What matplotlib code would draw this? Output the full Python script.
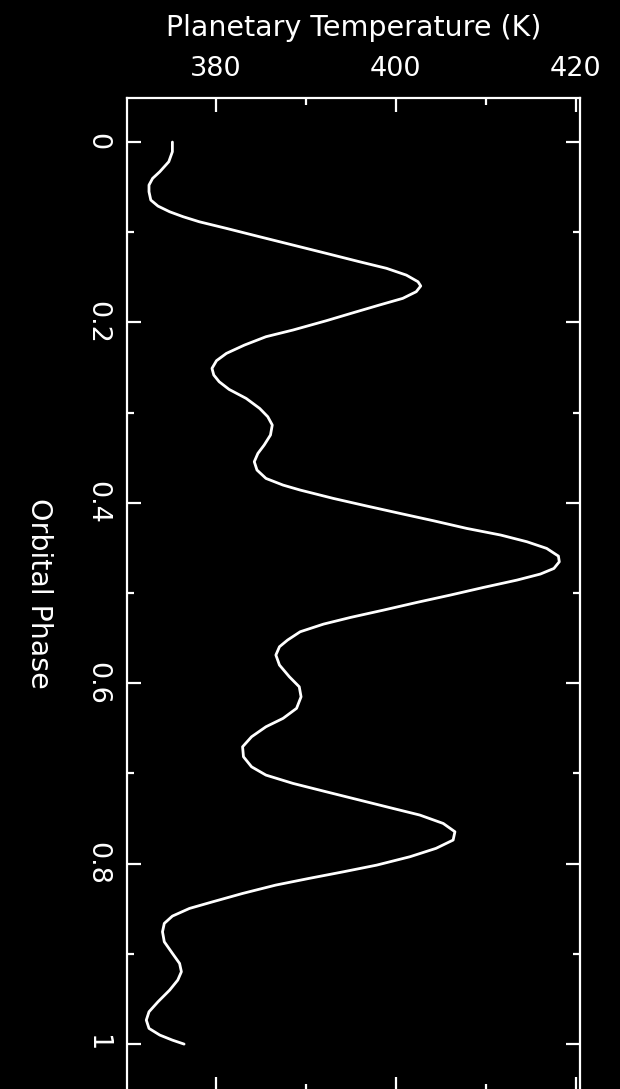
import matplotlib
matplotlib.use("Agg")
import matplotlib.pyplot as plt
from matplotlib.ticker import MultipleLocator, FuncFormatter

phase = [0.0000, 0.0107, 0.0218, 0.0329, 0.0403, 0.0477, 0.0551, 0.0643, 0.0710, 0.0773,
         0.0828, 0.0884, 0.0957, 0.1050, 0.1142, 0.1234, 0.1327, 0.1400, 0.1475, 0.1549,
         0.1596, 0.1659, 0.1733, 0.1807, 0.1892, 0.1981, 0.2084, 0.2158, 0.2251, 0.2343,
         0.2424, 0.2509, 0.2583, 0.2657, 0.2742, 0.2842, 0.2953, 0.3045, 0.3137, 0.3248,
         0.3359, 0.3452, 0.3544, 0.3636, 0.3729, 0.3803, 0.3858, 0.3951, 0.4035, 0.4117,
         0.4198, 0.4283, 0.4357, 0.4431, 0.4505, 0.4590, 0.4653, 0.4727, 0.4789, 0.4856,
         0.4937, 0.5022, 0.5103, 0.5188, 0.5270, 0.5344, 0.5429, 0.5521, 0.5595, 0.5687,
         0.5798, 0.5928, 0.6039, 0.6150, 0.6278, 0.6389, 0.6482, 0.6593, 0.6704, 0.6815,
         0.6926, 0.7018, 0.7110, 0.7203, 0.7295, 0.7387, 0.7461, 0.7554, 0.7646, 0.7738,
         0.7830, 0.7923, 0.8016, 0.8090, 0.8163, 0.8237, 0.8330, 0.8422, 0.8496, 0.8581,
         0.8662, 0.8755, 0.8866, 0.8994, 0.9106, 0.9198, 0.9290, 0.9401, 0.9531, 0.9642,
         0.9734, 0.9826, 0.9900, 0.9956, 1.0000]
temperature = [375.2, 375.2, 374.8, 373.8, 373.0, 372.6, 372.6, 372.8, 373.6, 374.9,
               376.4, 378.2, 381.2, 384.9, 388.6, 392.3, 396.0, 399.0, 401.2, 402.5,
               402.8, 402.3, 400.8, 398.2, 395.3, 392.3, 388.6, 385.6, 383.2, 381.2,
               380.1, 379.6, 379.8, 380.4, 381.5, 383.4, 384.9, 385.8, 386.3, 386.1,
               385.4, 384.7, 384.3, 384.6, 385.6, 387.5, 389.4, 393.1, 396.8, 400.5,
               404.2, 407.9, 411.7, 414.6, 416.8, 418.1, 418.2, 417.6, 416.1, 413.5,
               409.8, 406.1, 402.4, 398.7, 395.0, 392.0, 389.4, 388.0, 387.1, 386.7,
               387.1, 388.2, 389.3, 389.5, 389.0, 387.5, 385.6, 384.0, 383.0, 383.1,
               384.0, 385.6, 388.6, 392.3, 396.0, 399.7, 402.7, 405.3, 406.6, 406.4,
               404.5, 401.6, 397.9, 394.2, 390.4, 386.7, 383.0, 379.7, 377.1, 375.2,
               374.3, 374.1, 374.3, 375.2, 376.0, 376.2, 375.8, 374.9, 373.6, 372.6,
               372.3, 372.6, 373.8, 375.2, 376.5]

xlabel = "Planetary Temperature (K)"
ylabel = "Orbital Phase"

W, H = 620, 1089
fig = plt.figure(figsize=(W / 100, H / 100), dpi=100, facecolor="black")
L, R, T, B = 126.5, 580.0, 98.3, 1091.0
ax = fig.add_axes([L / W, (H - B) / H, (R - L) / W, (B - T) / H])
ax.set_facecolor("black")

ax.plot(temperature, phase, color="white", lw=2.0, solid_capstyle="round",
        solid_joinstyle="round")

ax.set_xlim(370.1, 420.5)
ax.set_ylim(1.052, -0.0485)

for s in ax.spines.values():
    s.set_color("white")
    s.set_linewidth(1.6)

ax.xaxis.set_major_locator(MultipleLocator(20))
ax.xaxis.set_minor_locator(MultipleLocator(10))
ax.yaxis.set_major_locator(MultipleLocator(0.2))
ax.yaxis.set_minor_locator(MultipleLocator(0.1))
ax.yaxis.set_major_formatter(FuncFormatter(lambda v, p: "%g" % round(v, 3)))

ax.tick_params(which="both", direction="in", colors="white", top=True,
               bottom=True, left=True, right=True, labeltop=True,
               labelbottom=False, labelleft=True, labelright=False)
ax.tick_params(which="major", length=10, width=1.6, labelsize=19.5)
ax.tick_params(which="minor", length=5, width=1.6)
ax.tick_params(axis="x", which="major", pad=12)
ax.tick_params(axis="y", which="major", pad=12, labelrotation=-90)
for lab in ax.get_yticklabels():
    lab.set_va("center")

ax.xaxis.set_label_position("top")
ax.set_xlabel(xlabel, color="white", fontsize=20.5, va="center")
ax.xaxis.set_label_coords(0.5, 1 + (T - 28) / (B - T))
ax.set_ylabel(ylabel, color="white", fontsize=20.5, rotation=-90,
              va="center", ha="center")
ax.yaxis.set_label_coords((39 - L) / (R - L), (B - 593) / (B - T))

fig.savefig("out.png", dpi=100, facecolor="black")
